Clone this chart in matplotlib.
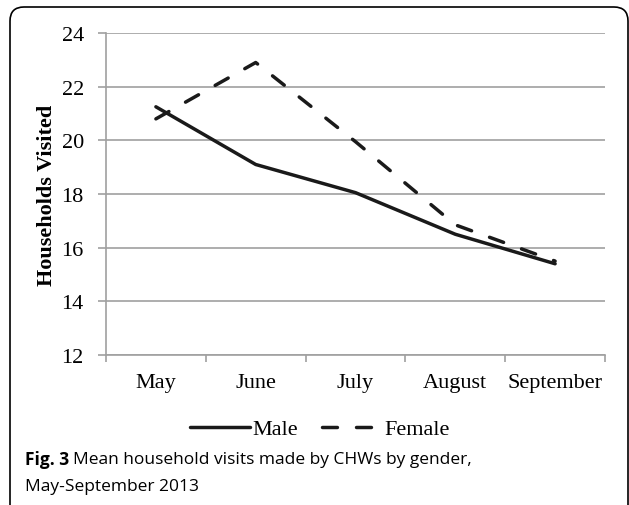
import matplotlib.pyplot as plt
import matplotlib.ticker as ticker
from matplotlib.patches import FancyBboxPatch

months = ['May', 'June', 'July', 'August', 'September']
male = [21.25, 19.1, 18.05, 16.5, 15.4]
female = [20.8, 22.9, 19.95, 16.85, 15.5]

plt.rcParams['font.family'] = 'Liberation Serif'

W, H = 629, 506
fig = plt.figure(figsize=(W / 100, H / 100), dpi=100)
ax = fig.add_axes([106 / W, 1 - 356 / H, (605 - 106) / W, (356 - 34) / H])

x = range(len(months))
ax.plot(x, male, color='#1a1a1a', linewidth=2.5, solid_capstyle='round', label='Male')
ax.plot(x, female, color='#1a1a1a', linewidth=2.5, dashes=(4.3, 5.5),
        dash_capstyle='round', label='Female')

ax.set_xlim(-0.5, len(months) - 0.5)
ax.set_ylim(12, 24)
ax.yaxis.set_major_locator(ticker.MultipleLocator(2))
# category boundaries as major ticks, labels centred on minor ticks
ax.set_xticks([i - 0.5 for i in range(len(months) + 1)])
ax.set_xticklabels([])
ax.set_xticks(list(x), minor=True)
ax.set_xticklabels(months, minor=True)
ax.tick_params(axis='x', which='minor', length=0, pad=13, labelsize=16)
ax.tick_params(axis='x', which='major', length=5, color='#a0a0a0', width=1.2)
ax.tick_params(axis='y', length=6, color='#a0a0a0', width=1.2, labelsize=16, pad=10)
ax.grid(axis='y', color='#a0a0a0', linewidth=1.2)
ax.set_axisbelow(True)
for s in ['top', 'right']:
    ax.spines[s].set_visible(False)
for s in ['left', 'bottom']:
    ax.spines[s].set_color('#a0a0a0')
    ax.spines[s].set_linewidth(1.2)

ax.set_ylabel('Households Visited', fontsize=16, fontweight='bold', labelpad=3)

fig.legend(loc='center', bbox_to_anchor=(320 / W, 1 - 430 / H), ncol=2, frameon=False,
           fontsize=16, handlelength=2.7, handletextpad=0.1, columnspacing=1.1)

# caption
cap = dict(fontsize=12.5, va='center', family='Open Sans')
t1 = fig.text(25 / W, 1 - 460 / H, 'Fig. 3', fontweight='bold', **cap)
fig.canvas.draw()
bb = t1.get_window_extent()
fig.text((bb.x1 + 4) / W, 1 - 460 / H, 'Mean household visits made by CHWs by gender,', **cap)
fig.text(25 / W, 1 - 487 / H, 'May-September 2013', **cap)

border = FancyBboxPatch((10, -20), 618, 518, boxstyle='round,pad=0,rounding_size=14',
                        transform=None, fill=False, edgecolor='black', linewidth=1.2)
fig.patches.append(border)

fig.savefig('out.png', dpi=100)
